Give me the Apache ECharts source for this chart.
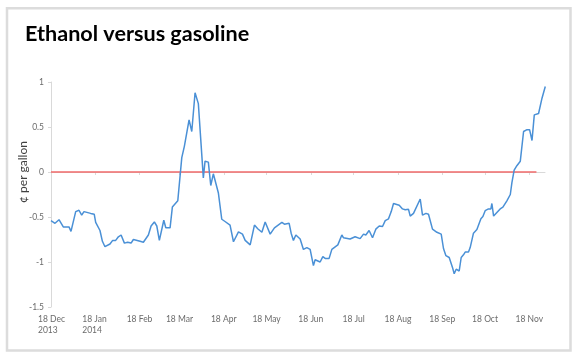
<!DOCTYPE html>
<html><head><meta charset="utf-8">
<script src="https://cdn.jsdelivr.net/npm/echarts@6/dist/echarts.min.js"></script>
<style>html,body{margin:0;padding:0;background:#fff}#c{width:580px;height:358px}</style>
</head><body><div id="c"></div>
<script>
// Days since 18 Dec 2013
const days = [0,2.8,5.6,8.6,12.6,14.0,17.3,19.6,21.5,23.1,27.8,30.3,31.3,34.3,36.0,37.8,41.3,43.2,45.3,47.2,49.1,51.4,53.7,56.1,57.7,62.4,64.7,68.2,70.1,72.4,74.1,75.9,79.0,80.4,83.4,85.0,86.4,88.8,89.7,91.6,93.4,96.7,98.6,100.9,103.2,104.4,106.7,107.9,110.2,111.9,113.7,117.2,119.6,121.9,125.4,127.8,131.3,134.1,136.0,139.5,142.5,144.8,147.7,150.0,153.5,156.5,161.7,163.5,166.8,168.2,169.8,171.5,174.5,176.8,179.2,181.5,183.8,185.0,188.5,190.4,192.0,194.8,196.7,200.9,203.7,204.8,209.5,213.0,216.5,218.9,220.5,222.8,225.2,227.5,229.9,232.2,234.1,236.4,238.3,239.9,241.1,243.9,246.2,248.1,250.4,251.6,253.9,255.1,258.6,260.2,262.6,264.4,267.2,270.3,273.3,274.9,276.6,278.9,281.2,282.4,283.8,285.9,287.3,288.9,290.1,292.4,293.6,295.9,298.3,299.4,301.1,302.5,304.1,306.4,308.1,308.8,310.0,312.3,314.6,316.5,319.3,321.7,322.8,324.4,326.3,328.7,329.8,331.0,333.4,335.2,336.9,338.5,341.5,343.9,346.2];
// Ethanol minus gasoline, cents per gallon
const values = [-0.54,-0.57,-0.53,-0.61,-0.61,-0.66,-0.44,-0.425,-0.48,-0.44,-0.46,-0.47,-0.56,-0.65,-0.77,-0.83,-0.80,-0.76,-0.76,-0.72,-0.70,-0.79,-0.78,-0.79,-0.75,-0.77,-0.78,-0.70,-0.60,-0.555,-0.60,-0.76,-0.536,-0.62,-0.62,-0.39,-0.37,-0.32,-0.31,0.16,0.285,0.58,0.45,0.88,0.76,0.77,-0.065,0.12,0.11,-0.15,-0.02,-0.23,-0.525,-0.55,-0.59,-0.775,-0.665,-0.69,-0.76,-0.81,-0.59,-0.63,-0.67,-0.555,-0.69,-0.62,-0.56,-0.58,-0.57,-0.68,-0.76,-0.70,-0.745,-0.86,-0.84,-0.86,-1.04,-0.975,-1.0,-0.94,-0.96,-0.96,-0.86,-0.81,-0.70,-0.73,-0.745,-0.72,-0.74,-0.69,-0.70,-0.65,-0.73,-0.635,-0.60,-0.605,-0.54,-0.52,-0.44,-0.35,-0.37,-0.37,-0.41,-0.42,-0.415,-0.49,-0.46,-0.47,-0.30,-0.48,-0.46,-0.47,-0.635,-0.67,-0.69,-0.85,-0.93,-0.95,-1.06,-1.13,-1.08,-1.10,-0.95,-0.92,-0.89,-0.89,-0.84,-0.68,-0.64,-0.63,-0.52,-0.495,-0.43,-0.41,-0.41,-0.35,-0.49,-0.45,-0.41,-0.39,-0.32,-0.25,-0.12,0.02,0.07,0.12,0.14,0.45,0.47,0.47,0.35,0.635,0.65,0.82,0.95];
const tickDays = [0,31,62,90,121,151,182,212,243,274,304,335];
const tickLabels = ['18 Dec\n2013','18 Jan\n2014','18 Feb','18 Mar','18 Apr','18 May','18 Jun','18 Jul','18 Aug','18 Sep','18 Oct','18 Nov'];
const zeroDays = [0, 340];
const zeroValues = [0, 0];

const chart = echarts.init(document.getElementById('c'), null, {renderer:'canvas'});
const axisGrey = '#d9d9d9';
const labelGrey = '#6b6b6b';
function fmtLabel(v){
  const s = tickLabels[tickDays.indexOf(v)] || '';
  if (s.indexOf('\n') < 0) return s;
  return s.split('\n').map(p => '{l|' + p + '}').join('\n');
}
chart.setOption({
  animation:false,
  backgroundColor:'#fff',
  title:{text:'Ethanol versus gasoline', left:20, top:18,
    textStyle:{fontFamily:'Lato', fontWeight:'bold', fontSize:21.6, color:'#000'}},
  grid:{left:51, right:35, top:82, bottom:51},
  xAxis:{type:'value', min:0, max:346,
    axisLine:{lineStyle:{color:axisGrey}},
    axisTick:{customValues:tickDays, length:3, lineStyle:{color:axisGrey}},
    axisLabel:{customValues:tickDays, margin:7, fontFamily:'Lato', fontSize:8.5, color:labelGrey, lineHeight:11,
      formatter:fmtLabel,
      rich:{l:{width:26, align:'left', fontFamily:'Lato', fontSize:8.5, color:labelGrey, lineHeight:11}}},
    splitLine:{show:false}},
  yAxis:{type:'value', min:-1.5, max:1, interval:0.5,
    axisLine:{show:true, lineStyle:{color:axisGrey}},
    axisTick:{show:true, length:3, lineStyle:{color:axisGrey}},
    axisLabel:{margin:7, fontFamily:'Lato', fontSize:8.5, color:labelGrey},
    splitLine:{show:false}},
  graphic:[
    {type:'rect', shape:{x:7, y:8.3, width:563.5, height:342.2}, style:{fill:'none', stroke:'#dcdcdc', lineWidth:2.5}, silent:true},
    {type:'text', x:23, y:172, rotation:Math.PI/2, style:{text:'¢ per gallon', font:'12px Lato', fill:'#404040', textAlign:'center', textVerticalAlign:'middle'}}
  ],
  series:[
    {type:'line', data:zeroDays.map((d,i)=>[d,zeroValues[i]]), symbol:'none', lineStyle:{color:'#f06a6a', width:1.5}, z:2},
    {type:'line', data:days.map((d,i)=>[d,values[i]]), symbol:'none', lineStyle:{color:'#4a90d6', width:1.5}, z:3}
  ]
});
</script></body></html>
